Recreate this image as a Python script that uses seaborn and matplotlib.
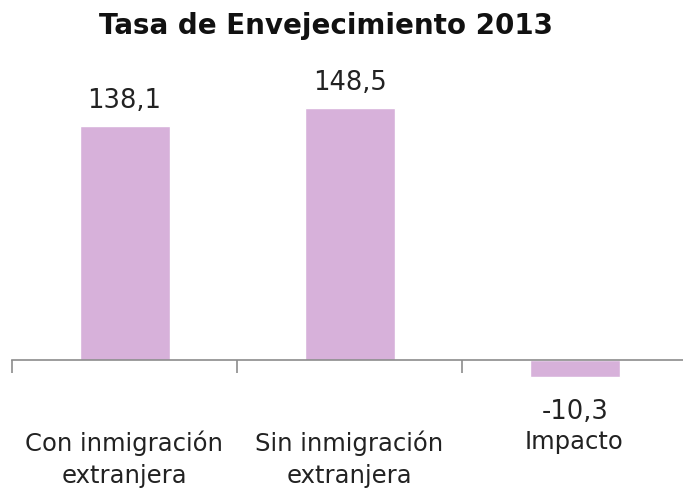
import matplotlib
matplotlib.use("Agg")
import matplotlib.pyplot as plt
import seaborn as sns
import pandas as pd

# Datos
categorias = ["Con inmigración\nextranjera", "Sin inmigración\nextranjera", "Impacto"]
valores = [138.1, 148.5, -10.3]
etiquetas = ["138,1", "148,5", "-10,3"]

sns.set_style("white")
plt.rcParams['font.family'] = ['DejaVu Sans']

df = pd.DataFrame({"categoria": categorias, "valor": valores})

fig = plt.figure(figsize=(6.83, 4.99), dpi=100)
# ejes: x de 12 a 683 px, y de 70 a 400 px
ax = fig.add_axes([12 / 683, 1 - 400 / 499, 671 / 683, 330 / 499])

sns.barplot(data=df, x="categoria", y="valor", color="#D7B1DA", width=0.4,
            saturation=1, ax=ax)

ax.set_xlim(-0.5, 2.48)
ax.set_ylim(-23.6, 171.1)

for s in ["top", "right", "left"]:
    ax.spines[s].set_visible(False)
ax.spines["bottom"].set_position(("data", 0))
ax.spines["bottom"].set_color("#8c8c8c")
ax.spines["bottom"].set_linewidth(1.2)
ax.set_yticks([])
ax.set_xticks([-0.5, 0.5, 1.5])
ax.set_xticklabels([])
ax.tick_params(axis="x", direction="out", length=9, width=1.2, color="#8c8c8c", bottom=True)
ax.set_xlabel("")
ax.set_ylabel("")

# Etiquetas de valor
for i, (v, t) in enumerate(zip(valores, etiquetas)):
    if v >= 0:
        ax.text(i, v + 7, t, ha="center", va="bottom", fontsize=18.5, color="#222222")
    else:
        ax.text(i, v - 13, t, ha="center", va="top", fontsize=18.5, color="#222222")

# Categorías
for i, c in enumerate(categorias):
    fig.text((12 + 225 * i + 112) / 683, 1 - 430 / 499, c, ha="center", va="top",
             fontsize=17.5, color="#222222", linespacing=1.45)

fig.text(326 / 683, 1 - 26 / 499, "Tasa de Envejecimiento 2013", ha="center", va="center",
         fontsize=20, fontweight="bold", color="#111111")

fig.savefig("out.png", dpi=100)
